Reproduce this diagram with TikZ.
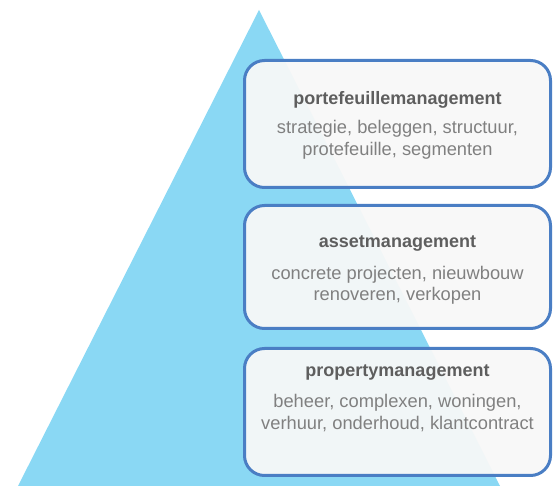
\documentclass[tikz,border=0pt]{standalone}
\usepackage{fontspec}
\setmainfont{Liberation Sans}
\definecolor{triblue}{HTML}{8AD8F4}
\definecolor{boxline}{HTML}{4A7EC4}
\definecolor{boxfill}{HTML}{F8F8F8}
\definecolor{titlegray}{HTML}{5E5E5E}
\definecolor{descgray}{HTML}{808080}
\begin{document}
\begin{tikzpicture}[x=1pt,y=-1pt,
  tri/.style={fill=triblue},
  panel/.style={draw=boxline, line width=3pt, rounded corners=20pt,
    fill=boxfill, fill opacity=0.94, minimum width=306pt, inner sep=0pt},
  ttl/.style={anchor=base, text=titlegray, font=\bfseries\fontsize{18}{21}\selectfont},
  dsc/.style={anchor=base, text=descgray, font=\fontsize{18.3}{21}\selectfont}]
\useasboundingbox (0,0) rectangle (558,486);
\coordinate (apex) at (259,10);
\coordinate (bl) at (18,486);
\coordinate (br) at (500,486);
\fill[tri] (apex) -- (br) -- (bl) -- cycle;
\node[panel, minimum height=127pt] (box1) at (397.5,124) {};
\node[panel, minimum height=123pt] (box2) at (397.5,267) {};
\node[panel, minimum height=127pt] (box3) at (397.5,412) {};
\node[ttl] (t1) at (397.5,104.5) {portefeuillemanagement};
\node[dsc] (d1a) at (397.5,134) {strategie, beleggen, structuur,};
\node[dsc] (d1b) at (397.5,155.5) {protefeuille, segmenten};
\node[ttl] (t2) at (397.5,247.5) {assetmanagement};
\node[dsc] (d2a) at (397.5,279.5) {concrete projecten, nieuwbouw};
\node[dsc] (d2b) at (397.5,300.5) {renoveren, verkopen};
\node[ttl] (t3) at (397.5,376.5) {propertymanagement};
\node[dsc] (d3a) at (397.5,408) {beheer, complexen, woningen,};
\node[dsc] (d3b) at (397.5,430) {verhuur, onderhoud, klantcontract};
\end{tikzpicture}
\end{document}
